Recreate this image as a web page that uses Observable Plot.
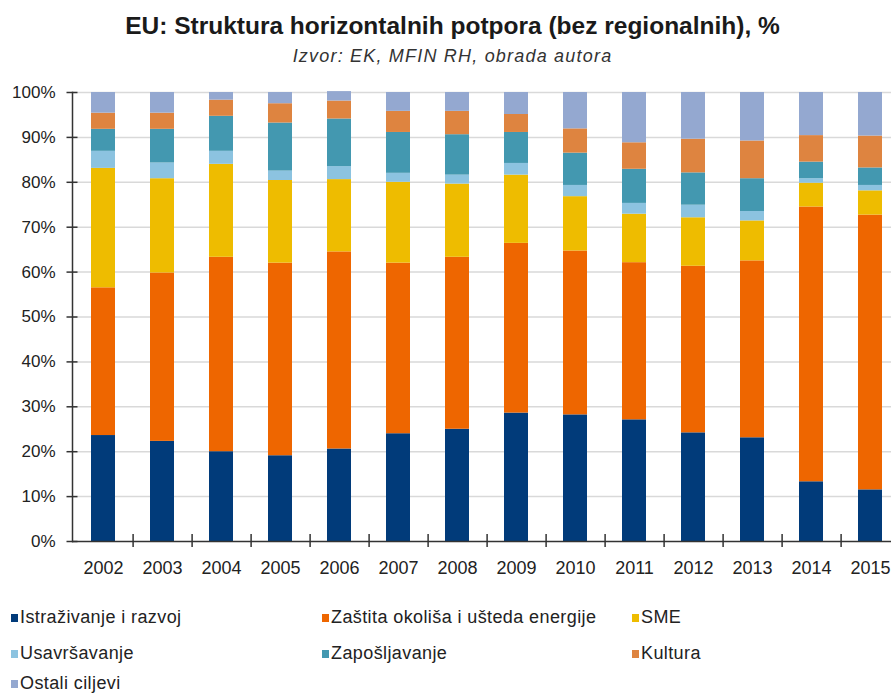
<!DOCTYPE html>
<html><head><meta charset="utf-8">
<script src="https://cdn.jsdelivr.net/npm/d3@7"></script>
<script src="https://cdn.jsdelivr.net/npm/@observablehq/plot@0.6"></script>
<style>
html,body{margin:0;padding:0;background:#fff;overflow:hidden;}
body{width:891px;height:695px;font-family:"Liberation Sans",Arial,sans-serif;color:#222;}
#wrap{width:905px;position:relative;}
#title{position:absolute;top:12px;left:0;width:905px;text-align:center;font-weight:bold;font-size:24.5px;color:#1a1a1a;}
#sub{position:absolute;top:46px;left:0;width:905px;text-align:center;font-style:italic;font-size:18px;letter-spacing:1.2px;color:#333;}
#chart{position:absolute;top:75px;left:0;}
#legend{position:absolute;top:607px;left:0;width:905px;}
.li{position:absolute;font-size:18px;letter-spacing:0.4px;color:#222;white-space:nowrap;line-height:20px;}
.sw{display:inline-block;width:7px;height:8px;margin-right:2px;vertical-align:1px;}
</style></head>
<body>
<div id="wrap">
<div id="title">EU: Struktura horizontalnih potpora (bez regionalnih), %</div>
<div id="sub">Izvor: EK, MFIN RH, obrada autora</div>
<div id="chart"></div>
<div id="legend"></div>
</div>
<script>
const years = ["2002","2003","2004","2005","2006","2007","2008","2009","2010","2011","2012","2013","2014","2015"];
const seriesNames = ["Istraživanje i razvoj","Zaštita okoliša i ušteda energije","SME","Usavršavanje","Zapošljavanje","Kultura","Ostali ciljevi"];
const seriesColors = ["#013B7A","#EE6600","#EEBC00","#8CC3E0","#4398B0","#DE8440","#94A8D0"];
const istrazivanje = [23.6,22.3,20.0,19.1,20.6,24.0,25.0,28.6,28.2,27.1,24.2,23.1,13.3,11.5];
const zastita      = [32.9,37.5,43.3,42.9,43.9,38.0,38.3,37.8,36.5,35.0,37.1,39.4,61.2,61.2];
const sme          = [26.6,21.0,20.7,18.4,16.1,18.0,16.3,15.2,12.1,10.8,10.8,8.9,5.3,5.4];
const usavrsavanje = [3.8,3.5,2.9,2.1,2.9,2.0,2.0,2.6,2.5,2.4,2.8,2.1,1.0,1.2];
const zaposljavanje= [4.9,7.5,7.8,10.7,10.6,9.1,9.0,6.9,7.2,7.6,7.2,7.3,3.7,3.9];
const kultura      = [3.6,3.6,3.6,4.3,4.0,4.7,5.2,4.0,5.4,5.9,7.5,8.4,5.9,7.1];
const ostali       = [4.6,4.6,1.7,2.5,2.1,4.2,4.2,4.9,8.1,11.2,10.4,10.8,9.6,9.7];
const yTicks = [0,10,20,30,40,50,60,70,80,90,100];

const seriesValues = [istrazivanje,zastita,sme,usavrsavanje,zaposljavanje,kultura,ostali];
const table = [];
seriesNames.forEach((s,i)=>years.forEach((y,j)=>table.push({year:y,series:s,value:seriesValues[i][j]})));

const width = 905, marginLeft = 72, marginRight = 4;
const step = (width - marginLeft - marginRight) / years.length;

const plot = Plot.plot({
  width, height: 516,
  marginLeft, marginRight, marginTop: 17, marginBottom: 50,
  style: {fontFamily: '"Liberation Sans", Arial, sans-serif', fontSize: "17px", color: "#222", background: "#fff"},
  x: {domain: years, paddingInner: 0.6, paddingOuter: 0.3, label: null, axis: null},
  y: {domain: [0,100], label: null, axis: null},
  color: {domain: seriesNames, range: seriesColors},
  marks: [
    Plot.ruleY(yTicks.slice(1), {stroke: "#d9d9d9", strokeWidth: 1.5}),
    Plot.barY(table, {x: "year", y: "value", fill: "series", order: seriesNames}),
    Plot.axisY({ticks: yTicks, tickFormat: d => d + "%", tickSize: 0, tickPadding: 17, fontSize: 17, label: null}),
    Plot.axisY({ticks: yTicks, tickFormat: () => "", tickSize: 11, dx: 5.5, stroke: "#333", strokeWidth: 1.5, label: null}),
    Plot.axisX({ticks: years, tickSize: 0, tickPadding: 20, fontSize: 18, label: null}),
    Plot.axisX({ticks: years, tickFormat: () => "", tickSize: 13, dx: step/2, dy: -7, stroke: "#333", strokeWidth: 1.5, label: null}),
    Plot.frame({anchor: "left", stroke: "#333", strokeWidth: 1.5}),
    Plot.ruleY([0], {stroke: "#333", strokeWidth: 1.5})
  ]
});
document.getElementById("chart").appendChild(plot);

// legend
const lg = document.getElementById("legend");
const colX = [11, 322, 632];
const rowY = [0, 36, 66];
seriesNames.forEach((s,i)=>{
  const d = document.createElement("div");
  d.className = "li";
  d.style.left = colX[i%3] + "px";
  d.style.top = rowY[Math.floor(i/3)] + "px";
  d.innerHTML = `<span class="sw" style="background:${seriesColors[i]}"></span>${s}`;
  lg.appendChild(d);
});
</script>
</body></html>
